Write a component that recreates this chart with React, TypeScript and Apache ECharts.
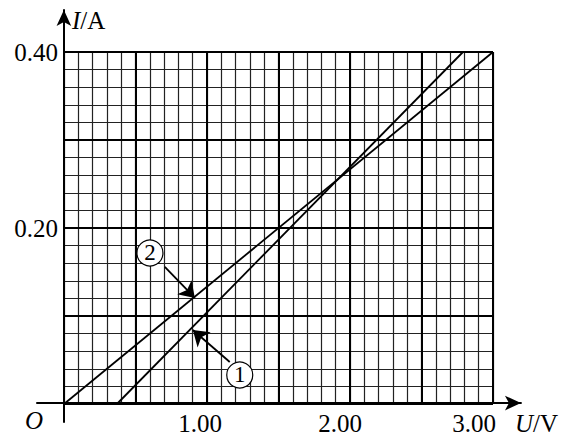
import React, { useEffect, useRef } from "react";
import * as echarts from "echarts";

// Data
const line1Points: number[][] = [[0.37, 0], [2.79, 0.4]]; // line ①
const line2Points: number[][] = [[0, 0], [3.0, 0.4]]; // line ②
const xTickLabels = ["1.00", "2.00", "3.00"];
const yTickLabels = ["0.20", "0.40"];
const label1Pos = [1.229, 0.033];
const label2Pos = [0.601, 0.1716];
const arrow1 = [[1.159, 0.0477], [0.901, 0.0841]];
const arrow2 = [[0.705, 0.1557], [0.915, 0.1205]];

const FONT = "'Liberation Serif', 'Times New Roman', serif";

export default function App() {
  const ref = useRef<HTMLDivElement>(null);
  useEffect(() => {
    if (!ref.current) return;
    const chart = echarts.init(ref.current, null, { renderer: "svg" });
    const fmt = (v: number) => v.toFixed(2);
    const xRich: any = {
      a: { fontFamily: FONT, fontSize: 25, color: "#000", padding: [0, 14, 0, 0] },
      b: { fontFamily: FONT, fontSize: 25, color: "#000", padding: [0, 20, 0, 0] },
      c: { fontFamily: FONT, fontSize: 25, color: "#000", padding: [0, 38, 0, 0] },
    };
    const keys = ["a", "b", "c"];
    const hidden = {
      axisLine: { show: false },
      axisTick: { show: false },
      axisLabel: { show: false },
    };
    chart.setOption({
      animation: false,
      backgroundColor: "#fff",
      grid: [
        { left: 64, top: 52, width: 429, height: 352 },
        { left: 37, right: 38, top: 10, bottom: 13 },
      ],
      xAxis: [
        {
          gridIndex: 0,
          type: "value",
          min: 0,
          max: 3,
          interval: 0.5,
          axisLine: { show: false },
          axisTick: { show: false },
          axisLabel: {
            show: true,
            margin: 7,
            formatter: (v: number) => {
              const t = fmt(v);
              const i = xTickLabels.indexOf(t);
              return i >= 0 ? `{${keys[i]}|${t}}` : "";
            },
            rich: xRich,
          },
          splitLine: { show: true, lineStyle: { color: "#000", width: 2 } },
          z: 3,
        },
        {
          gridIndex: 0,
          type: "value",
          min: 0,
          max: 3,
          interval: 0.1,
          ...hidden,
          splitLine: { show: true, lineStyle: { color: "#222", width: 1.2 } },
        },
        {
          gridIndex: 1,
          type: "value",
          min: -0.1886,
          max: 3.206,
          axisLine: {
            show: true,
            onZero: true,
            symbol: ["none", "arrow"],
            symbolSize: [11, 16],
            lineStyle: { color: "#000", width: 2 },
          },
          axisTick: { show: false },
          axisLabel: { show: false },
          splitLine: { show: false },
          name: "{i|U}/V",
          nameLocation: "end",
          nameGap: -6,
          nameTextStyle: {
            align: "left",
            verticalAlign: "top",
            padding: [8, 0, 0, 0],
            fontFamily: FONT,
            fontSize: 25,
            color: "#000",
            rich: { i: { fontFamily: FONT, fontSize: 25, fontStyle: "italic", color: "#000" } },
          },
        },
      ],
      yAxis: [
        {
          gridIndex: 0,
          type: "value",
          min: 0,
          max: 0.4,
          interval: 0.1,
          axisLine: { show: false },
          axisTick: { show: false },
          axisLabel: {
            show: true,
            margin: 6,
            fontFamily: FONT,
            fontSize: 25,
            color: "#000",
            formatter: (v: number) => {
              const t = fmt(v);
              return yTickLabels.indexOf(t) >= 0 ? t : "";
            },
          },
          splitLine: { show: true, lineStyle: { color: "#000", width: 2 } },
          z: 3,
        },
        {
          gridIndex: 0,
          type: "value",
          min: 0,
          max: 0.4,
          interval: 0.02,
          ...hidden,
          splitLine: { show: true, lineStyle: { color: "#222", width: 1.2 } },
        },
        {
          gridIndex: 1,
          type: "value",
          min: -0.0216,
          max: 0.4477,
          axisLine: {
            show: true,
            onZero: true,
            symbol: ["none", "arrow"],
            symbolSize: [11, 16],
            lineStyle: { color: "#000", width: 2 },
          },
          axisTick: { show: false },
          axisLabel: { show: false },
          splitLine: { show: false },
          name: "{i|I}/A",
          nameLocation: "end",
          nameGap: -10,
          nameTextStyle: {
            align: "left",
            verticalAlign: "middle",
            padding: [0, 0, 0, 8],
            fontFamily: FONT,
            fontSize: 25,
            color: "#000",
            rich: { i: { fontFamily: FONT, fontSize: 25, fontStyle: "italic", color: "#000" } },
          },
        },
      ],
      graphic: [
        {
          type: "text",
          left: 25,
          top: 408,
          style: { text: "O", font: `italic 25px ${FONT}`, fill: "#000" },
        },
      ],
      series: [
        {
          type: "line",
          xAxisIndex: 0,
          yAxisIndex: 0,
          data: line1Points,
          symbol: "none",
          lineStyle: { color: "#000", width: 1.8 },
          z: 5,
        },
        {
          type: "line",
          xAxisIndex: 0,
          yAxisIndex: 0,
          data: line2Points,
          symbol: "none",
          lineStyle: { color: "#000", width: 1.8 },
          z: 5,
        },
        {
          type: "lines",
          coordinateSystem: "cartesian2d",
          xAxisIndex: 0,
          yAxisIndex: 0,
          symbol: ["none", "arrow"],
          symbolSize: 15,
          lineStyle: { color: "#000", width: 1.8, opacity: 1 },
          data: [{ coords: arrow1 }, { coords: arrow2 }],
          z: 6,
        },
        {
          type: "scatter",
          xAxisIndex: 0,
          yAxisIndex: 0,
          symbol: "circle",
          symbolSize: 26,
          itemStyle: { color: "#fff", borderColor: "#000", borderWidth: 1.2, opacity: 1 },
          label: {
            show: true,
            position: "inside",
            fontFamily: FONT,
            fontSize: 23,
            color: "#000",
            formatter: (p: any) => p.name,
          },
          data: [
            { name: "1", value: label1Pos },
            { name: "2", value: label2Pos },
          ],
          z: 7,
        },
      ],
    });
    return () => chart.dispose();
  }, []);
  return (
    <div
      ref={ref}
      style={{ position: "fixed", left: 0, top: 0, width: 561, height: 436 }}
    />
  );
}
